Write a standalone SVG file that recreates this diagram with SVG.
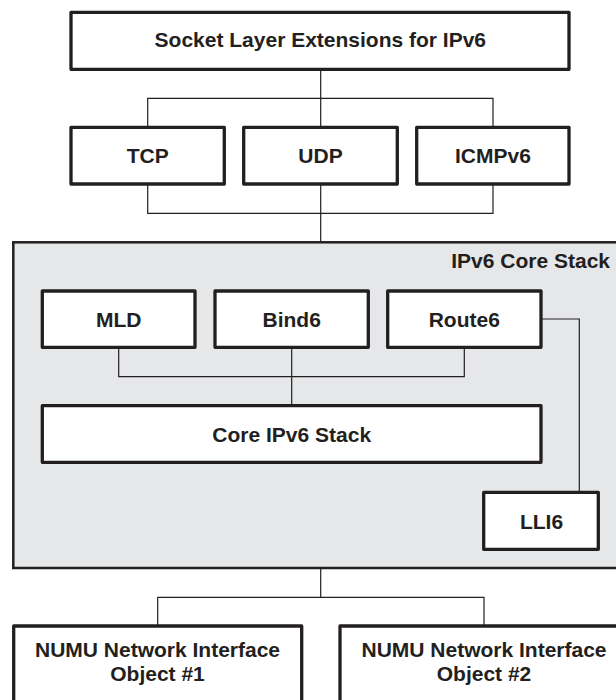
<svg xmlns="http://www.w3.org/2000/svg" width="616" height="700" viewBox="0 0 616 700">
<style>
.box{fill:#ffffff;stroke:#231f20;stroke-width:3.3;stroke-linejoin:round}
.core{fill:#e6e7e8;stroke:#231f20;stroke-width:2.5}
.lbl{font-family:"Liberation Sans",Arial,sans-serif;font-weight:bold;font-size:21px;fill:#231f20;text-anchor:middle}
.conn{fill:none;stroke:#231f20;stroke-width:1.2}
</style>
<rect width="616" height="700" fill="#ffffff"/>
<g id="core-stack">
<rect class="core" x="13.3" y="242.3" width="620" height="325.7"/>
<text class="lbl" x="610" y="268.3" style="text-anchor:end">IPv6 Core Stack</text>
</g>
<g id="connectors">
<polyline class="conn" points="320.7,69.3 320.7,127.3"/>
<polyline class="conn" points="147.7,127.3 147.7,98.3 493,98.3 493,127.3"/>
<polyline class="conn" points="147.7,184 147.7,213.3 493,213.3 493,184"/>
<polyline class="conn" points="320.7,184 320.7,242.3"/>
<polyline class="conn" points="118.7,347.3 118.7,376.7 464.3,376.7 464.3,347.3"/>
<polyline class="conn" points="291.7,347.3 291.7,405.7"/>
<polyline class="conn" points="541,319 579.3,319 579.3,492.3"/>
<polyline class="conn" points="320.7,568 320.7,597.3"/>
<polyline class="conn" points="157.7,626 157.7,597.3 484,597.3 484,626"/>
</g>
<g id="socket">
<rect class="box" x="71" y="12.3" width="498" height="57"/>
<text class="lbl" x="320.3" y="46.5">Socket Layer Extensions for IPv6</text>
</g>
<g id="tcp">
<rect class="box" x="71" y="127.3" width="153.3" height="56.7"/>
<text class="lbl" x="147.7" y="163.3">TCP</text>
</g>
<g id="udp">
<rect class="box" x="243.7" y="127.3" width="153.6" height="56.7"/>
<text class="lbl" x="320.5" y="163.3">UDP</text>
</g>
<g id="icmpv6">
<rect class="box" x="416.7" y="127.3" width="152.3" height="56.7"/>
<text class="lbl" x="492.9" y="163.3">ICMPv6</text>
</g>
<g id="mld">
<rect class="box" x="42.3" y="291" width="152.7" height="56.3"/>
<text class="lbl" x="118.7" y="327.3">MLD</text>
</g>
<g id="bind6">
<rect class="box" x="215" y="291" width="153.3" height="56.3"/>
<text class="lbl" x="291.7" y="327.3">Bind6</text>
</g>
<g id="route6">
<rect class="box" x="387.7" y="291" width="153.3" height="56.3"/>
<text class="lbl" x="464.3" y="327.3">Route6</text>
</g>
<g id="core-ipv6">
<rect class="box" x="42.3" y="405.7" width="498.7" height="56.6"/>
<text class="lbl" x="291.7" y="442">Core IPv6 Stack</text>
</g>
<g id="lli6">
<rect class="box" x="483.7" y="492.3" width="114.6" height="57"/>
<text class="lbl" x="541.5" y="528.8">LLI6</text>
</g>
<g id="numu1">
<rect class="box" x="13.7" y="626" width="288" height="90"/>
<text class="lbl" x="157.5" y="657.3">NUMU Network Interface</text>
<text class="lbl" x="157.5" y="680.8">Object #1</text>
</g>
<g id="numu2">
<rect class="box" x="340" y="626" width="288" height="90"/>
<text class="lbl" x="484" y="657.3">NUMU Network Interface</text>
<text class="lbl" x="484" y="680.8">Object #2</text>
</g>
</svg>
